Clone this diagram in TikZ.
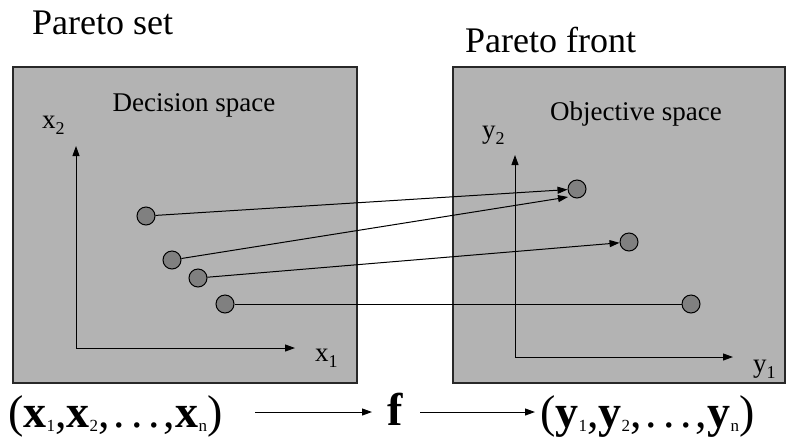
\documentclass[tikz,border=0pt]{standalone}
\usepackage{fontspec}
\setmainfont{Liberation Serif}
\usetikzlibrary{arrows.meta}
\definecolor{boxgray}{RGB}{179,179,179}
\definecolor{dotgray}{RGB}{128,128,128}
\definecolor{edgegray}{RGB}{40,40,40}
\newcommand{\axlab}[2]{\fontsize{27}{27}\selectfont #1\raisebox{-0.25em}{\fontsize{18}{18}\selectfont #2}}
\newcommand{\bx}[2]{\textbf{#1}\raisebox{-0.1em}{\fontsize{17}{17}\selectfont #2}}
\newcommand{\sdots}{\hspace{4pt}.\hspace{6pt}.\hspace{6pt}.\hspace{4pt}}
\begin{document}
\begin{tikzpicture}[x=1pt,y=-1pt,
  spacebox/.style={draw=edgegray, line width=1.4pt, fill=boxgray},
  title/.style={font=\fontsize{36}{40}\selectfont, inner sep=0pt, anchor=base west},
  spacelabel/.style={font=\fontsize{27}{30}\selectfont, inner sep=0pt, anchor=base},
  axlabel/.style={inner sep=0pt, anchor=base west},
  axis/.style={line width=1pt, -{Triangle[length=10pt,width=7pt]}},
  conn/.style={line width=1pt, -{Triangle[length=10pt,width=7pt]}},
  plain/.style={line width=1pt},
  pt/.style={circle, draw=black, line width=1pt, fill=dotgray, minimum size=18pt, inner sep=0pt},
  formula/.style={font=\fontsize{46}{50}\selectfont, inner sep=0pt, anchor=base west}
]
\useasboundingbox (0,0) rectangle (786,437);
\fill[white] (0,0) rectangle (786,437);

% titles
\node[title] (pset) at (32,34) {Pareto set};
\node[title] (pfront) at (465,52) {Pareto front};

% boxes
\draw[spacebox] (13,67) rectangle (357,383);
\draw[spacebox] (453,67) rectangle (785,383);

\node[spacelabel] (dspace) at (194,111) {Decision space};
\node[spacelabel] (ospace) at (636,120) {Objective space};

% left axes
\coordinate (lo) at (76,348);
\coordinate (lx) at (295,348);
\coordinate (ly) at (76,146);
\draw[axis] (lo) -- (lx);
\draw[axis] (lo) -- (ly);
\node[axlabel] (x2) at (42,128) {\axlab{x}{2}};
\node[axlabel] (x1) at (315,361) {\axlab{x}{1}};

% right axes
\coordinate (ro) at (515,357);
\coordinate (rx) at (733,357);
\coordinate (ry) at (515,155);
\draw[axis] (ro) -- (rx);
\draw[axis] (ro) -- (ry);
\node[axlabel] (y2) at (482,138) {\axlab{y}{2}};
\node[axlabel] (y1) at (753,372) {\axlab{y}{1}};

% points
\node[pt] (p1) at (146,216) {};
\node[pt] (p2) at (172,260) {};
\node[pt] (p3) at (198,278) {};
\node[pt] (p4) at (225,304) {};
\node[pt] (q1) at (577,189) {};
\node[pt] (q2) at (629,242) {};
\node[pt] (q3) at (691,304) {};
\coordinate (q1b) at (568,197);

\draw[conn] (p1) -- (q1);
\draw[conn] (p2) -- (q1b);
\draw[conn] (p3) -- (q2);
\draw[plain] (p4) -- (q3);

% bottom mapping
\node[formula] (xs) at (8,427) {(\bx{x}{1},\bx{x}{2},\sdots,\bx{x}{n})};
\node[formula, anchor=base] (f) at (395,425) {\textbf{f}};
\node[formula] (ys) at (540,427) {(\bx{y}{1},\bx{y}{2},\sdots,\bx{y}{n})};
\coordinate (a1s) at (255,412);
\coordinate (a1e) at (372,412);
\coordinate (a2s) at (420,412);
\coordinate (a2e) at (535,412);
\draw[conn] (a1s) -- (a1e);
\draw[conn] (a2s) -- (a2e);
\end{tikzpicture}
\end{document}
